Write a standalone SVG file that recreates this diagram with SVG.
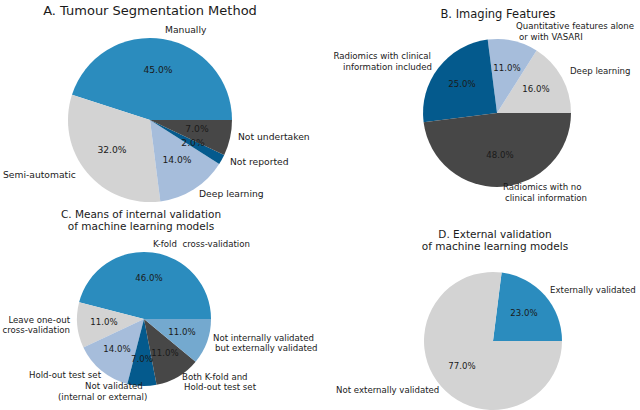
<svg xmlns="http://www.w3.org/2000/svg" width="640" height="410" viewBox="0 0 640 410">
<style>
text{font-family:"DejaVu Sans",sans-serif;fill:#1a1a1a}
.t{font-size:10.5px;text-anchor:middle}
.l{font-size:8.6px}
.p{font-size:8.6px;text-anchor:middle}
.c1{fill:#2b8cbe}.c2{fill:#d3d3d3}.c3{fill:#a6bddb}.c4{fill:#045a8d}.c5{fill:#474747}.c6{fill:#74a9cf}
</style>
<rect width="640" height="410" fill="#fff"/>
<g id="pieA">
<text class="t" x="150" y="15" style="font-size:13px">A. Tumour Segmentation Method</text>
<path class="c1" d="M150,120 L232,120 A82,82 0 0 0 72,94.7 Z"/>
<path class="c2" d="M150,120 L72,94.7 A82,82 0 0 0 160.3,201.4 Z"/>
<path class="c3" d="M150,120 L160.3,201.4 A82,82 0 0 0 219.2,163.9 Z"/>
<path class="c4" d="M150,120 L219.2,163.9 A82,82 0 0 0 224.2,154.9 Z"/>
<path class="c5" d="M150,120 L224.2,154.9 A82,82 0 0 0 232,120 Z"/>
<text class="l" x="165" y="33" style="font-size:9.2px">Manually</text>
<text class="p" x="158" y="73" style="font-size:9.2px">45.0%</text>
<text class="p" x="112" y="153" style="font-size:9.2px">32.0%</text>
<text class="p" x="177" y="163" style="font-size:9.2px">14.0%</text>
<text class="p" x="193" y="146" style="font-size:9.2px">2.0%</text>
<text class="p" x="197" y="132" style="font-size:9.2px">7.0%</text>
<text class="l" x="238" y="140" style="font-size:9.2px">Not undertaken</text>
<text class="l" x="230" y="165" style="font-size:9.2px">Not reported</text>
<text class="l" x="3" y="178" style="font-size:9.2px">Semi-automatic</text>
<text class="l" x="199" y="197" style="font-size:9.2px">Deep learning</text>
</g>
<g id="pieB">
<text class="t" x="498" y="18" style="font-size:11.5px">B. Imaging Features</text>
<path class="c2" d="M497,113 L571,113 A74,74 0 0 0 536.6,50.5 Z"/>
<path class="c3" d="M497,113 L536.6,50.5 A74,74 0 0 0 487.7,39.6 Z"/>
<path class="c4" d="M497,113 L487.7,39.6 A74,74 0 0 0 423.6,122.3 Z"/>
<path class="c5" d="M497,113 L423.6,122.3 A74,74 0 0 0 571,113 Z"/>
<text class="l" x="516" y="29">Quantitative features alone</text>
<text class="l" x="519" y="40">or with VASARI</text>
<text class="l" x="431" y="59" text-anchor="end">Radiomics with clinical</text>
<text class="l" x="432" y="70" text-anchor="end">information included</text>
<text class="p" x="462" y="87">25.0%</text>
<text class="p" x="507" y="71">11.0%</text>
<text class="p" x="536" y="92">16.0%</text>
<text class="l" x="570" y="74">Deep learning</text>
<text class="p" x="500" y="158">48.0%</text>
<text class="l" x="503" y="190">Radiomics with no</text>
<text class="l" x="505" y="201">clinical information</text>
</g>
<g id="pieC">
<text class="t" x="141" y="218">C. Means of internal validation</text>
<text class="t" x="141" y="230">of machine learning models</text>
<path class="c1" d="M144,319 L211,319 A67,67 0 0 0 79.1,302.3 Z"/>
<path class="c2" d="M144,319 L79.1,302.3 A67,67 0 0 0 83.4,347.5 Z"/>
<path class="c3" d="M144,319 L83.4,347.5 A67,67 0 0 0 127.3,383.9 Z"/>
<path class="c4" d="M144,319 L127.3,383.9 A67,67 0 0 0 156.6,384.8 Z"/>
<path class="c5" d="M144,319 L156.6,384.8 A67,67 0 0 0 195.6,361.7 Z"/>
<path class="c6" d="M144,319 L195.6,361.7 A67,67 0 0 0 211,319 Z"/>
<text class="l" x="153" y="247" xml:space="preserve">K-fold  cross-validation</text>
<text class="p" x="149" y="281">46.0%</text>
<text class="l" x="70" y="323" text-anchor="end">Leave one-out</text>
<text class="l" x="70" y="333" text-anchor="end">cross-validation</text>
<text class="p" x="104" y="325">11.0%</text>
<text class="p" x="117" y="352">14.0%</text>
<text class="p" x="142" y="362">7.0%</text>
<text class="p" x="165" y="356">11.0%</text>
<text class="p" x="182" y="335">11.0%</text>
<text class="l" x="213" y="341">Not internally validated</text>
<text class="l" x="215" y="351">but externally validated</text>
<text class="l" x="182" y="380">Both K-fold and</text>
<text class="l" x="184" y="390">Hold-out test set</text>
<text class="l" x="29" y="378">Hold-out test set</text>
<text class="l" x="85" y="389">Not validated</text>
<text class="l" x="58" y="400">(internal or external)</text>
</g>
<g id="pieD">
<text class="t" x="495" y="238">D. External validation</text>
<text class="t" x="495" y="250">of machine learning models</text>
<path class="c1" d="M493,341 L562,341 A69,69 0 0 0 501.6,272.5 Z"/>
<path class="c2" d="M493,341 L501.6,272.5 A69,69 0 1 0 562,341 Z"/>
<text class="l" x="550" y="293">Externally validated</text>
<text class="p" x="524" y="316">23.0%</text>
<text class="p" x="462" y="369">77.0%</text>
<text class="l" x="336" y="393">Not externally validated</text>
</g>
<g id="connectors"/>
</svg>
